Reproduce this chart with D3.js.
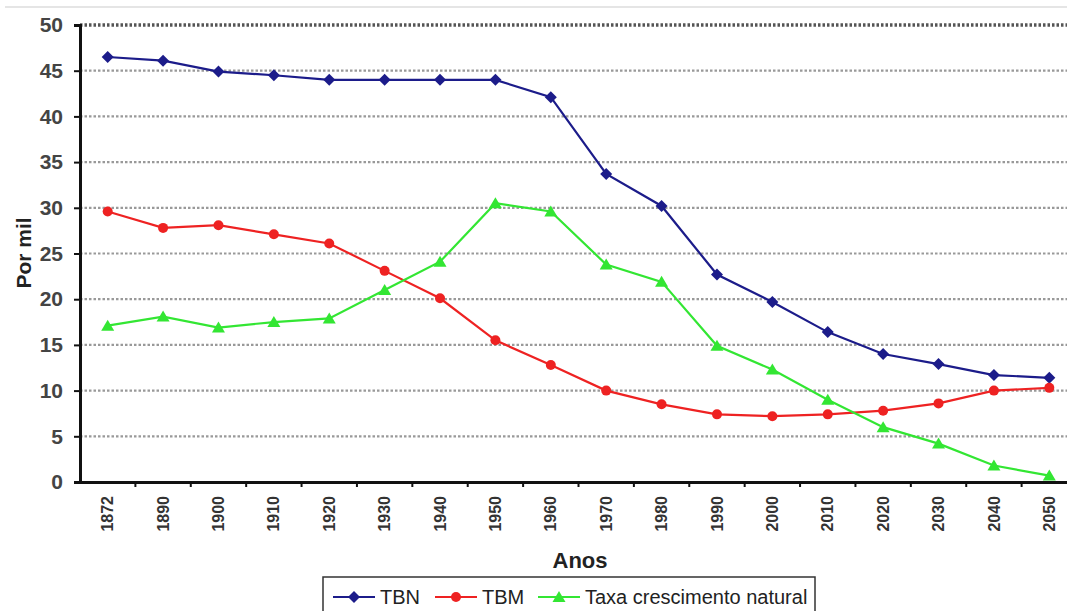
<!DOCTYPE html>
<html>
<head>
<meta charset="utf-8">
<script src="https://cdn.jsdelivr.net/npm/d3@7"></script>
<style>
  body { margin: 0; background: #fff; }
  svg { display: block; font-family: Arial, "Liberation Sans", sans-serif; }
</style>
</head>
<body>
<svg width="1067" height="611"></svg>
<script>
// Anos (categorias do eixo X)
const anos = ["1872", "1890", "1900", "1910", "1920", "1930", "1940", "1950", "1960",
              "1970", "1980", "1990", "2000", "2010", "2020", "2030", "2040", "2050"];

// Séries (por mil)
const tbn = [46.5, 46.1, 44.9, 44.5, 44.0, 44.0, 44.0, 44.0, 42.1,
             33.7, 30.2, 22.7, 19.7, 16.4, 14.0, 12.9, 11.7, 11.4];
const tbm = [29.6, 27.8, 28.1, 27.1, 26.1, 23.1, 20.1, 15.5, 12.8,
             10.0, 8.5, 7.4, 7.2, 7.4, 7.8, 8.6, 10.0, 10.3];
const taxa = [17.1, 18.1, 16.9, 17.5, 17.9, 21.0, 24.1, 30.5, 29.6,
              23.8, 21.9, 14.9, 12.3, 9.0, 6.0, 4.2, 1.8, 0.7];

const yTicks = [0, 5, 10, 15, 20, 25, 30, 35, 40, 45, 50];

const series = [
    {name: "TBN", values: tbn, color: "#1c1c8a", marker: "diamond"},
    {name: "TBM", values: tbm, color: "#ee2222", marker: "circle"},
    {name: "Taxa crescimento natural", values: taxa, color: "#33e633", marker: "triangle"}
];

const svg = d3.select("svg");
const plotLeft = 80, plotRight = 1077, plotTop = 25, plotBottom = 482;

const x = d3.scaleBand().domain(anos).range([plotLeft, plotRight]).paddingInner(0);
const y = d3.scaleLinear().domain([0, 50]).range([plotBottom, plotTop]);

// linha fina no topo da imagem
svg.append("line")
    .attr("x1", 5).attr("x2", 1067).attr("y1", 7).attr("y2", 7)
    .attr("stroke", "#ddd").attr("stroke-width", 1.5);

// Grade pontilhada
svg.append("g").selectAll("line")
    .data(yTicks.filter(d => d > 0))
    .enter().append("line")
    .attr("x1", plotLeft).attr("x2", 1067)
    .attr("y1", d => y(d)).attr("y2", d => y(d))
    .attr("stroke", d => d === 50 ? "#555" : "#999")
    .attr("stroke-width", d => d === 50 ? 3.5 : 2.2)
    .attr("stroke-dasharray", "2.5,2");

// Eixo Y
const yAxis = svg.append("g")
    .attr("transform", `translate(${plotLeft},0)`)
    .call(d3.axisLeft(y).tickValues(yTicks).tickSize(6).tickPadding(11));
yAxis.select(".domain").attr("stroke", "#111").attr("stroke-width", 3);
yAxis.selectAll(".tick line").attr("stroke", "#111").attr("stroke-width", 2);
yAxis.selectAll(".tick text")
    .attr("font-size", 21).attr("font-weight", "bold").attr("fill", "#444")
    .attr("font-family", "Arial, 'Liberation Sans', sans-serif");

// Eixo X
const xAxis = svg.append("g")
    .attr("transform", `translate(0,${plotBottom})`)
    .call(d3.axisBottom(x).tickSize(0).tickPadding(0));
xAxis.select(".domain").attr("stroke", "#111").attr("stroke-width", 3);
xAxis.selectAll(".tick text")
    .attr("font-size", 16).attr("font-weight", "bold").attr("fill", "#333")
    .attr("font-family", "Arial, 'Liberation Sans', sans-serif")
    .attr("text-anchor", "end")
    .attr("transform", "rotate(-90)")
    .attr("x", -14).attr("y", 0).attr("dy", "0.35em");

// marcas do eixo X nas fronteiras das categorias
svg.append("g").selectAll("line")
    .data(anos.slice(1))
    .enter().append("line")
    .attr("x1", d => x(d)).attr("x2", d => x(d))
    .attr("y1", plotBottom).attr("y2", plotBottom + 5)
    .attr("stroke", "#111").attr("stroke-width", 2);

// Títulos dos eixos
svg.append("text")
    .attr("transform", "translate(31,253) rotate(-90)")
    .attr("text-anchor", "middle")
    .attr("font-size", 21).attr("font-weight", "bold").attr("fill", "#222")
    .text("Por mil");

svg.append("text")
    .attr("x", 580).attr("y", 568)
    .attr("text-anchor", "middle")
    .attr("font-size", 22).attr("font-weight", "bold").attr("fill", "#222")
    .text("Anos");

function drawMarker(g, type, color) {
    if (type === "diamond") {
        g.append("path").attr("d", "M0,-6L6,0L0,6L-6,0Z").attr("fill", color);
    } else if (type === "circle") {
        g.append("circle").attr("r", 5).attr("fill", color);
    } else {
        g.append("path").attr("d", "M0,-6L6.5,5L-6.5,5Z").attr("fill", color);
    }
}

const line = d3.line()
    .x((d, i) => x(anos[i]) + x.bandwidth() / 2)
    .y(d => y(d));

series.forEach(s => {
    svg.append("path")
        .datum(s.values)
        .attr("fill", "none")
        .attr("stroke", s.color)
        .attr("stroke-width", 2.2)
        .attr("d", line);
    s.values.forEach((v, i) => {
        const g = svg.append("g")
            .attr("transform", `translate(${x(anos[i]) + x.bandwidth() / 2},${y(v)})`);
        drawMarker(g, s.marker, s.color);
    });
});

// Legenda
const legend = svg.append("g");
legend.append("rect")
    .attr("x", 323).attr("y", 577).attr("width", 492).attr("height", 44)
    .attr("fill", "#fff").attr("stroke", "#333").attr("stroke-width", 1.5);

const legendX = [333, 435, 538];
series.forEach((s, i) => {
    const lx = legendX[i];
    legend.append("line")
        .attr("x1", lx).attr("x2", lx + 42).attr("y1", 597).attr("y2", 597)
        .attr("stroke", s.color).attr("stroke-width", 2.2);
    const g = legend.append("g").attr("transform", `translate(${lx + 21},597)`);
    drawMarker(g, s.marker, s.color);
    legend.append("text")
        .attr("x", lx + 47).attr("y", 604)
        .attr("font-size", 20).attr("fill", "#222")
        .text(s.name);
});
</script>
</body>
</html>
